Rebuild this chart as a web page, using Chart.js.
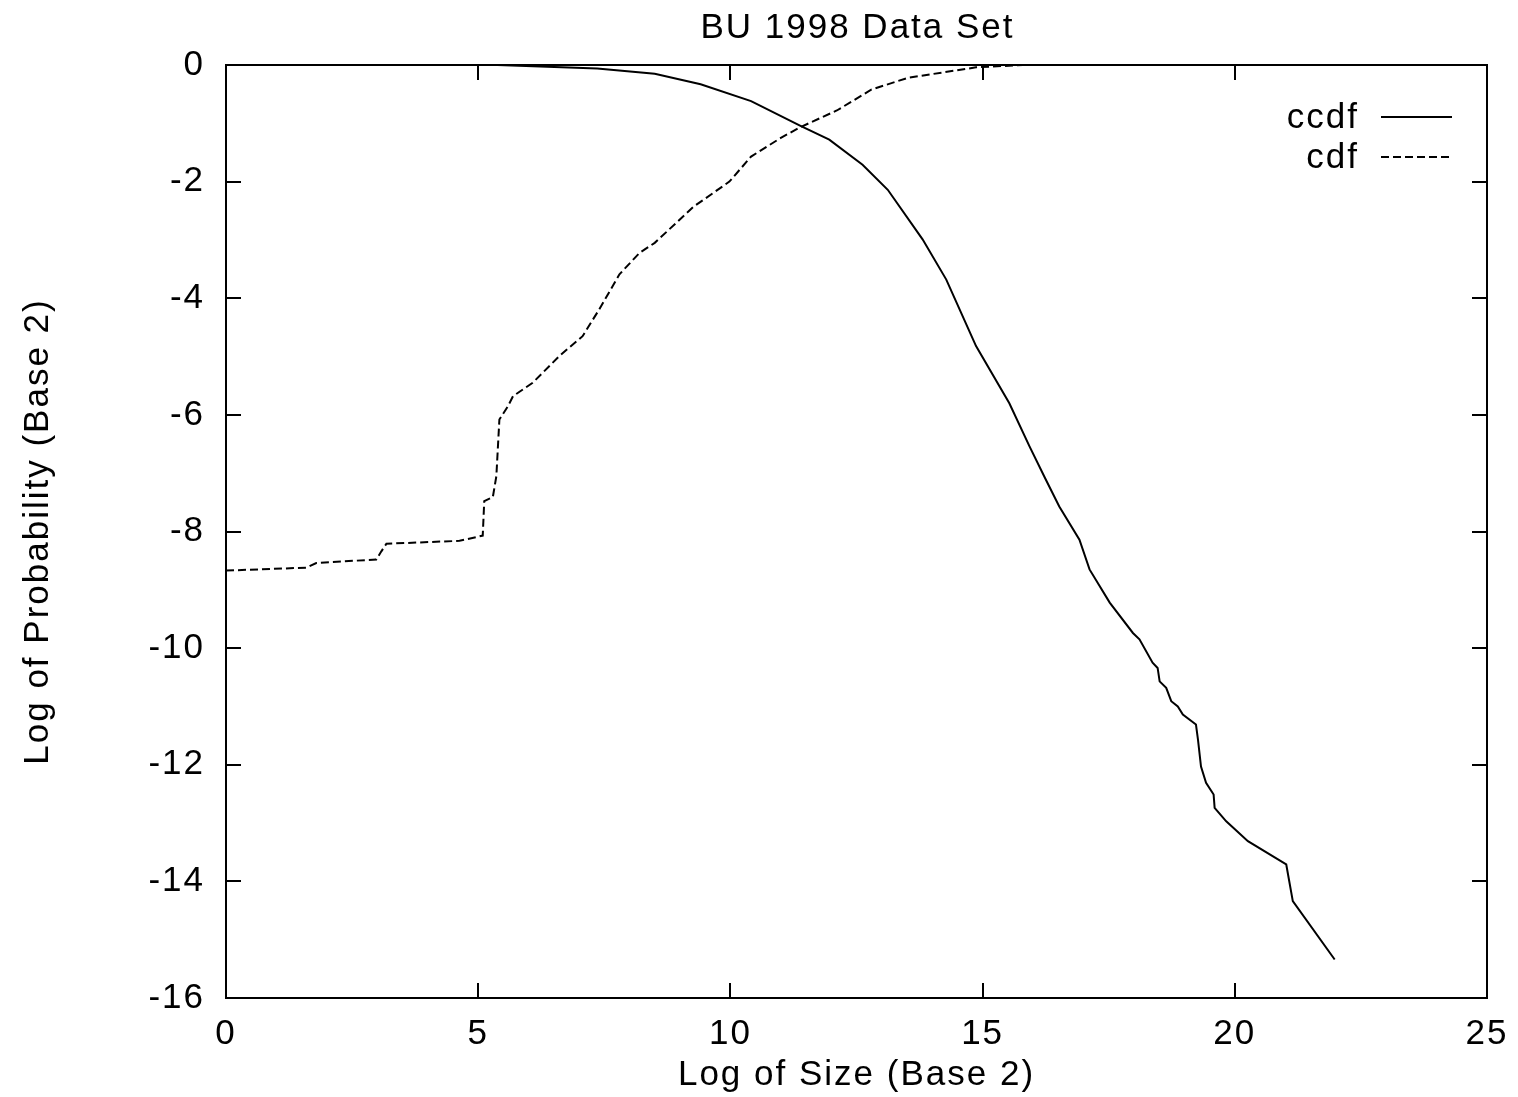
<!DOCTYPE html>
<html>
<head>
<meta charset="utf-8">
<script src="https://cdn.jsdelivr.net/npm/chart.js@4/dist/chart.umd.min.js"></script>
<style>
html,body{margin:0;padding:0;background:#fff;}
canvas{display:block;}
</style>
</head>
<body>
<canvas id="c" width="1518" height="1097"></canvas>
<script>
// ---- data ----
const chartTitle = 'BU 1998 Data Set';
const xAxisTitle = 'Log of Size (Base 2)';
const yAxisTitle = 'Log of Probability (Base 2)';
const xTickValues = [0, 5, 10, 15, 20, 25];
const yTickValues = [-16, -14, -12, -10, -8, -6, -4, -2, 0];

const ccdfX = [5.38, 7.36, 8.5, 9.41, 10.41, 11.40, 11.96, 12.62, 13.12, 13.81, 14.28, 14.87, 15.53, 15.93, 16.23, 16.52, 16.92, 17.12, 17.52, 17.98, 18.11, 18.37, 18.47, 18.51, 18.64, 18.74, 18.87, 18.97, 19.23, 19.27, 19.33, 19.43, 19.58, 19.60, 19.83, 20.26, 21.02, 21.15, 21.98];
const ccdfY = [0, -0.06, -0.15, -0.33, -0.62, -1.05, -1.28, -1.71, -2.14, -2.99, -3.68, -4.82, -5.80, -6.54, -7.07, -7.57, -8.14, -8.65, -9.22, -9.74, -9.85, -10.25, -10.34, -10.57, -10.68, -10.91, -11.00, -11.14, -11.31, -11.57, -12.03, -12.31, -12.51, -12.74, -12.97, -13.31, -13.71, -14.34, -15.34];

const cdfX = [0, 1.59, 1.79, 2.98, 3.08, 3.18, 4.63, 5.09, 5.12, 5.29, 5.36, 5.42, 5.59, 5.69, 6.08, 6.61, 7.07, 7.40, 7.80, 8.20, 8.50, 9.27, 9.98, 10.41, 11.0, 11.40, 12.11, 12.8, 13.52, 14.87, 15.8];
const cdfY = [-8.67, -8.62, -8.54, -8.48, -8.34, -8.21, -8.16, -8.07, -7.48, -7.41, -7.05, -6.08, -5.85, -5.68, -5.45, -4.99, -4.65, -4.19, -3.59, -3.22, -3.05, -2.43, -2.00, -1.57, -1.25, -1.06, -0.78, -0.42, -0.22, -0.04, 0];

const seriesLabels = ['ccdf', 'cdf'];

// ---- chart ----
const FONT = "'Liberation Sans', Arial, Helvetica, sans-serif";
const FS = 35;
const LS = '2px';

function toPoints(xs, ys) { return xs.map((x, i) => ({x: x, y: ys[i]})); }
function setSpacing(chart) { try { chart.ctx.letterSpacing = LS; } catch (e) {} }

const textSpacing = {
  id: 'textSpacing',
  beforeUpdate: setSpacing,
  beforeLayout: setSpacing,
  beforeDraw: setSpacing
};

const frameAndLegend = {
  id: 'frameAndLegend',
  afterDatasetsDraw(chart) {
    const ctx = chart.ctx;
    const a = chart.chartArea;
    const xs = chart.scales.x, ys = chart.scales.y;
    ctx.save();
    ctx.strokeStyle = '#000';
    ctx.lineWidth = 2;
    ctx.setLineDash([]);
    ctx.strokeRect(a.left, a.top, a.right - a.left, a.bottom - a.top);
    const TL = 15;
    ctx.beginPath();
    xTickValues.forEach(v => {
      const p = Math.round(xs.getPixelForValue(v));
      ctx.moveTo(p, a.bottom); ctx.lineTo(p, a.bottom - TL);
      ctx.moveTo(p, a.top); ctx.lineTo(p, a.top + TL);
    });
    yTickValues.forEach(v => {
      const p = Math.round(ys.getPixelForValue(v));
      ctx.moveTo(a.left, p); ctx.lineTo(a.left + TL, p);
      ctx.moveTo(a.right, p); ctx.lineTo(a.right - TL, p);
    });
    ctx.stroke();

    ctx.fillStyle = '#000';
    try { ctx.letterSpacing = LS; } catch (e) {}
    // chart title, centred over the plot area
    ctx.font = FS + 'px ' + FONT;
    ctx.textAlign = 'center';
    ctx.textBaseline = 'alphabetic';
    ctx.fillText(chartTitle, (a.left + a.right) / 2 + 1, 38);

    // legend (gnuplot style: label right-aligned, then sample line)
    ctx.textAlign = 'right';
    const rows = [117, 157];
    chart.data.datasets.forEach((ds, i) => {
      const y = rows[i];
      ctx.fillText(ds.label, 1359, y + 11);
      ctx.beginPath();
      ctx.lineWidth = ds.borderWidth;
      ctx.setLineDash(ds.borderDash || []);
      ctx.moveTo(1381, y);
      ctx.lineTo(1452, y);
      ctx.stroke();
    });
    ctx.restore();
  }
};

new Chart(document.getElementById('c'), {
  type: 'scatter',
  data: {
    datasets: [
      {
        label: seriesLabels[0],
        data: toPoints(ccdfX, ccdfY),
        showLine: true,
        borderColor: '#000',
        borderWidth: 2,
        pointRadius: 0,
        tension: 0,
        fill: false
      },
      {
        label: seriesLabels[1],
        data: toPoints(cdfX, cdfY),
        showLine: true,
        borderColor: '#000',
        borderWidth: 2,
        borderDash: [8, 4],
        pointRadius: 0,
        tension: 0,
        fill: false
      }
    ]
  },
  options: {
    responsive: false,
    animation: false,
    devicePixelRatio: 1,
    layout: { padding: { left: 0, right: 31, top: 65, bottom: 0 } },
    plugins: {
      legend: { display: false },
      tooltip: { enabled: false },
      title: { display: false }
    },
    scales: {
      x: {
        type: 'linear',
        min: 0, max: 25,
        afterBuildTicks(scale) { scale.ticks = xTickValues.map(v => ({value: v})); },
        afterFit(scale) { scale.height = 99; scale.paddingLeft = 0; scale.paddingRight = 0; },
        ticks: { color: '#000', font: { family: FONT, size: FS }, padding: 15, maxRotation: 0, autoSkip: false },
        grid: { display: false, drawTicks: false },
        border: { display: false },
        title: {
          display: true, text: xAxisTitle, color: '#000',
          font: { family: FONT, size: FS }, padding: { top: 0, bottom: 1 }
        }
      },
      y: {
        type: 'linear',
        min: -16, max: 0,
        afterBuildTicks(scale) { scale.ticks = yTickValues.map(v => ({value: v})); },
        afterFit(scale) { scale.width = 226; scale.paddingTop = 0; scale.paddingBottom = 0; },
        ticks: { color: '#000', font: { family: FONT, size: FS }, padding: 21, autoSkip: false },
        grid: { display: false, drawTicks: false },
        border: { display: false },
        title: {
          display: true, text: yAxisTitle, color: '#000',
          font: { family: FONT, size: FS }, padding: { top: 17, bottom: 0 }
        }
      }
    }
  },
  plugins: [textSpacing, frameAndLegend]
});
</script>
</body>
</html>
